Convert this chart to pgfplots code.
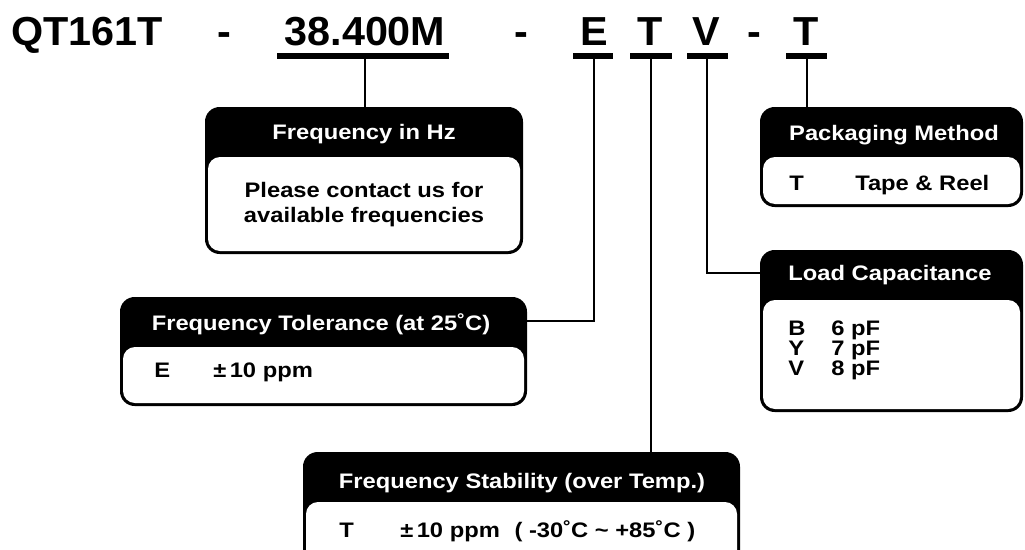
\documentclass[border=0pt]{standalone}
\usepackage{pgfplots}
\pgfplotsset{compat=1.18}
\usepackage{fontspec}
\setmainfont{Liberation Sans}
\newfontfamily\titlefont{Liberation Sans}[FakeStretch=1.02]
\newfontfamily\boxfont{Liberation Sans}[FakeStretch=1.13]
\newcommand\tf{\titlefont\bfseries\fontsize{30.4}{36}\selectfont}
\newcommand\bx{\boxfont\bfseries\fontsize{15.75}{19}\selectfont}
\begin{document}
\begin{tikzpicture}
\begin{axis}[width=768.75pt,height=412.5pt,scale only axis,
  xmin=0,xmax=1025,ymin=0,ymax=550,y dir=reverse,hide axis,clip=true]
% underline bars
\addplot[black,line width=4.5pt,mark=none] coordinates {(277,56) (449,56)};
\addplot[black,line width=4.5pt,mark=none] coordinates {(573,56) (613,56)};
\addplot[black,line width=4.5pt,mark=none] coordinates {(630,56) (672,56)};
\addplot[black,line width=4.5pt,mark=none] coordinates {(687,56) (728,56)};
\addplot[black,line width=4.5pt,mark=none] coordinates {(786,56) (827,56)};
% connectors
\addplot[black,line width=1.5pt,mark=none] coordinates {(365,56) (365,110)};
\addplot[black,line width=1.5pt,mark=none] coordinates {(594,56) (594,321) (524,321)};
\addplot[black,line width=1.5pt,mark=none] coordinates {(651,56) (651,455)};
\addplot[black,line width=1.5pt,mark=none] coordinates {(707,56) (707,273) (762,273)};
\addplot[black,line width=1.5pt,mark=none] coordinates {(807,56) (807,110)};
% title
\node[anchor=base,inner sep=0,font=\tf] at (axis cs:87,45) {QT161T};
\node[anchor=base,inner sep=0,font=\tf] at (axis cs:224,45) {-};
\node[anchor=base,inner sep=0,font=\tf] at (axis cs:365,45) {38.400M};
\node[anchor=base,inner sep=0,font=\tf] at (axis cs:521,45) {-};
\node[anchor=base,inner sep=0,font=\tf] at (axis cs:594,45) {E};
\node[anchor=base,inner sep=0,font=\tf] at (axis cs:650,45) {T};
\node[anchor=base,inner sep=0,font=\tf] at (axis cs:706,45) {V};
\node[anchor=base,inner sep=0,font=\tf] at (axis cs:754,45) {-};
\node[anchor=base,inner sep=0,font=\tf] at (axis cs:806,45) {T};
% Box 1: Frequency in Hz
\fill[black,rounded corners=11pt] (axis cs:205,107) rectangle (axis cs:523,254);
\fill[white,rounded corners=9pt] (axis cs:208,157) rectangle (axis cs:520,251);
\node[anchor=base,inner sep=0,font=\bx,text=white] at (axis cs:364,139) {Frequency in Hz};
\node[anchor=base,inner sep=0,font=\bx] at (axis cs:364,197) {Please contact us for};
\node[anchor=base,inner sep=0,font=\bx] at (axis cs:364,222) {available frequencies};
% Box 2: Frequency Tolerance
\fill[black,rounded corners=11pt] (axis cs:120,297) rectangle (axis cs:527,406);
\fill[white,rounded corners=9pt] (axis cs:123,347) rectangle (axis cs:524,403);
\node[anchor=base,inner sep=0,font=\bx,text=white] at (axis cs:321,330) {Frequency Tolerance (at 25˚C)};
\node[anchor=base west,inner sep=0,font=\bx] at (axis cs:154,377) {E};
\node[anchor=base west,inner sep=0,font=\bx] at (axis cs:213,377) {±\,10 ppm};
% Box 3: Frequency Stability
\fill[black,rounded corners=11pt] (axis cs:303,452) rectangle (axis cs:740,580);
\fill[white,rounded corners=9pt] (axis cs:306,502) rectangle (axis cs:737,577);
\node[anchor=base,inner sep=0,font=\bx,text=white] at (axis cs:522,488) {Frequency Stability (over Temp.)};
\node[anchor=base west,inner sep=0,font=\bx] at (axis cs:339,537) {T};
\node[anchor=base west,inner sep=0,font=\bx] at (axis cs:400,537) {±\,10 ppm\hspace{11pt}( -30˚C {\char"7E} +85˚C )};
% Box 4: Load Capacitance
\fill[black,rounded corners=11pt] (axis cs:760,250) rectangle (axis cs:1023,412);
\fill[white,rounded corners=9pt] (axis cs:763,300) rectangle (axis cs:1020,409);
\node[anchor=base,inner sep=0,font=\bx,text=white] at (axis cs:890,280) {Load Capacitance};
\node[anchor=base west,inner sep=0,font=\bx] at (axis cs:788,335) {B};
\node[anchor=base west,inner sep=0,font=\bx] at (axis cs:831,335) {6 pF};
\node[anchor=base west,inner sep=0,font=\bx] at (axis cs:788,355) {Y};
\node[anchor=base west,inner sep=0,font=\bx] at (axis cs:831,355) {7 pF};
\node[anchor=base west,inner sep=0,font=\bx] at (axis cs:788,375) {V};
\node[anchor=base west,inner sep=0,font=\bx] at (axis cs:831,375) {8 pF};
% Box 5: Packaging Method
\fill[black,rounded corners=11pt] (axis cs:760,107) rectangle (axis cs:1023,207);
\fill[white,rounded corners=9pt] (axis cs:763,157) rectangle (axis cs:1020,204);
\node[anchor=base,inner sep=0,font=\bx,text=white] at (axis cs:894,140) {Packaging Method};
\node[anchor=base west,inner sep=0,font=\bx] at (axis cs:789,190) {T};
\node[anchor=base west,inner sep=0,font=\bx] at (axis cs:855,190) {Tape \& Reel};
\end{axis}
\pgfresetboundingbox
\useasboundingbox (current axis.south west) rectangle (current axis.north east);
\end{tikzpicture}
\end{document}
